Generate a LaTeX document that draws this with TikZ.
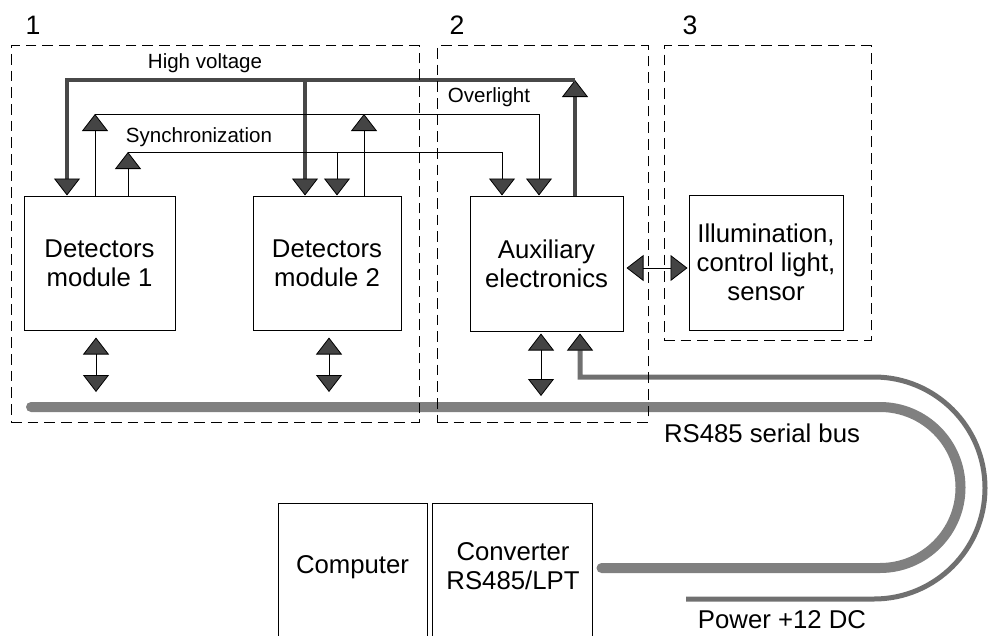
\documentclass[tikz,border=0pt]{standalone}
\usepackage{fontspec}
\setmainfont{Liberation Sans}
\usepackage{tikz}
\usetikzlibrary{arrows.meta,calc}
\definecolor{tipgray}{RGB}{68,68,68}
\definecolor{hvgray}{RGB}{72,72,72}
\definecolor{busgray}{RGB}{128,128,128}
\definecolor{pwrgray}{RGB}{112,112,112}
\tikzset{
  sig/.tip={Triangle[length=12.75pt,width=19.5pt,line width=0.6pt,color=black,fill=tipgray]},
  block/.style={rectangle, draw=black, line width=0.75pt, align=center, inner sep=0pt,
                font=\fontsize{19.3}{21.75}\selectfont},
  group/.style={rectangle, draw=black, line width=0.75pt, dash pattern=on 8pt off 4.5pt},
  sigline/.style={draw=black, line width=0.75pt},
  hvline/.style={draw=hvgray, line width=3.2pt},
  busline/.style={draw=busgray, line width=7.5pt, line cap=round},
  pwrline/.style={draw=pwrgray, line width=3.75pt},
  busarrow/.style={sigline, sig-sig},
  small/.style={font=\fontsize{15.4}{18}\selectfont},
  big/.style={font=\fontsize{19.3}{21.75}\selectfont, align=center},
  numlabel/.style={font=\fontsize{20}{24}\selectfont}
}

\begin{document}
\begin{tikzpicture}[x=0.75pt,y=0.75pt]
    \clip (0,0) rectangle (988,-635);
    % Blocks
    \node[block, minimum width=113.25pt, minimum height=100.5pt] (mod1) at (99.5,-263) {Detectors\\module 1};
    \node[block, minimum width=111pt, minimum height=100.5pt] (mod2) at (327,-263) {Detectors\\module 2};
    \node[block, minimum width=114.75pt, minimum height=101.25pt] (aux) at (546.5,-263.5) {Auxiliary\\electronics};
    \node[block, minimum width=115.5pt, minimum height=101.25pt] (illum) at (766,-262.5) {Illumination,\\control light,\\sensor};
    \node[block, minimum width=111.75pt, minimum height=117.75pt] (comp) at (352.5,-581.5) {};
    \node[block, minimum width=120pt, minimum height=117.75pt] (conv) at (512,-581.5) {};
    \node[big] (comptext) at (352.5,-567) {Computer};
    \node[big] (convtext) at (513,-566) {Converter\\RS485/LPT};

    % Bus and power
    \coordinate (busL) at (31,-407);
    \coordinate (tap1) at (96,-407);
    \coordinate (tap2) at (329,-407);
    \coordinate (tap3) at (541,-407);
    \coordinate (pwrin) at (686,-599);
    \coordinate (pwr) at (580,-377);
    \draw[busline, shorten <=6.75pt] (conv.east |- 0,-568) -- (880,-568)
          arc[start angle=-90, end angle=90, radius=80.5] -- (busL);
    \draw[pwrline, -sig, shorten >=1.5pt] (pwrin) -- (874,-599)
          arc[start angle=-90, end angle=90, radius=111] -- (pwr) -- (pwr |- aux.south);
    \draw[busarrow, shorten <=5.25pt, shorten >=11.25pt] (tap1 |- mod1.south) -- (tap1);
    \draw[busarrow, shorten <=5.25pt, shorten >=11.25pt] (tap2 |- mod2.south) -- (tap2);
    \draw[busarrow, shorten <=1.5pt, shorten >=8.25pt] (tap3 |- aux.south) -- (tap3);
    \draw[busarrow, shorten <=2.25pt, shorten >=0.75pt] (aux.east |- 0,-268) -- (illum.west |- 0,-268);

    % High voltage
    \coordinate (hvA) at (575,-80);
    \coordinate (hvB) at (67,-80);
    \coordinate (hvC) at (305,-80);
    \draw[hvline, -sig] (hvA |- aux.north) -- (hvA);
    \draw[hvline, -sig] (hvA) -- (hvB) -- (hvB |- mod1.north);
    \draw[hvline, -sig] (hvC) -- (hvC |- mod2.north);

    % Overlight
    \coordinate (olA) at (95,-114);
    \coordinate (olB) at (539,-114);
    \coordinate (olC) at (364,-114);
    \draw[sigline, -sig] (olA |- mod1.north) -- (olA);
    \draw[sigline, -sig] (olA) -- (olB) -- (olB |- aux.north);
    \draw[sigline, -sig] (olC |- mod2.north) -- (olC);

    % Synchronization
    \coordinate (syA) at (128,-152);
    \coordinate (syB) at (502,-152);
    \coordinate (syC) at (337,-152);
    \draw[sigline, -sig] (syA |- mod1.north) -- (syA);
    \draw[sigline, -sig] (syA) -- (syB) -- (syB |- aux.north);
    \draw[sigline, -sig] (syC) -- (syC |- mod2.north);

    % Groups
    \node[group, minimum width=306pt, minimum height=282pt] (grp1) at (215,-234) {};
    \node[group, minimum width=158.25pt, minimum height=282pt] (grp2) at (542.5,-234) {};
    \node[group, minimum width=155.25pt, minimum height=220.5pt] (grp3) at (767.5,-193) {};
    \node[numlabel] (num1) at (33,-25) {1};
    \node[numlabel] (num2) at (457,-25) {2};
    \node[numlabel] (num3) at (690,-25) {3};

    % Labels
    \node[small] (hvlabel) at (205,-63) {High voltage};
    \node[small] (ovlabel) at (489,-97) {Overlight};
    \node[small] (synclabel) at (199,-137) {Synchronization};
    \node[big] (buslabel) at (762,-433) {RS485 serial bus};
    \node[big] (pwrlabel) at (782,-620) {Power +12 DC};

\end{tikzpicture}
\end{document}
